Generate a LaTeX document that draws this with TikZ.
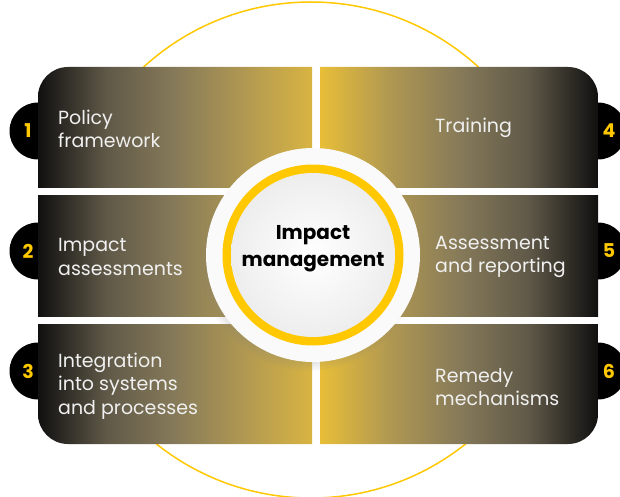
\documentclass[tikz,border=0pt]{standalone}
\usepackage{fontspec}
\setmainfont{Poppins}
\usepackage{tikz}
\usetikzlibrary{shadows}
\definecolor{ink}{RGB}{16,16,16}
\definecolor{smoke}{RGB}{96,89,72}
\definecolor{olive}{RGB}{134,122,89}
\definecolor{tan}{RGB}{176,152,82}
\definecolor{gold}{RGB}{216,180,66}
\definecolor{brightgold}{RGB}{232,190,56}
\definecolor{ringyellow}{RGB}{255,200,0}
\definecolor{paper}{RGB}{250,250,250}
\pgfdeclarehorizontalshading{darktogold}{100bp}{color(0bp)=(ink); color(25bp)=(ink);
  color(37.5bp)=(smoke); color(50bp)=(olive); color(62.5bp)=(tan);
  color(75bp)=(gold); color(100bp)=(gold)}
\pgfdeclarehorizontalshading{goldtodark}{100bp}{color(0bp)=(brightgold); color(25bp)=(brightgold);
  color(37.5bp)=(tan); color(50bp)=(olive); color(62.5bp)=(smoke);
  color(75bp)=(ink); color(100bp)=(ink)}
\tikzset{
  every picture/.style={font=\normalsize, >=stealth},
  leftpanel/.style={shading=darktogold},
  rightpanel/.style={shading=goldtodark}}

\begin{document}
\begin{tikzpicture}[x=1pt, y=-1pt,
    tag/.style={circle, fill=black, minimum size=57pt, inner sep=0pt},
    num/.style={font=\bfseries\fontsize{19}{19}\selectfont, text=ringyellow},
    caption/.style={
      font=\fontsize{19}{23.5}\selectfont, text=white!94!black,
      align=left, anchor=west, inner sep=0pt}]
  \useasboundingbox (0,0) rectangle (620,497);
  \clip (0,0) rectangle (620,497);

  \draw[ringyellow, line width=1.5pt] (311,250) circle (248pt);
  \fill[white] (38,67) rectangle (598,444);

  % number tabs sit behind the panels
  \foreach \i/\yy in {1/131, 2/251, 3/371}
    \node[tag] (tag\i) at (38,\yy) {};
  \foreach \i/\yy in {4/131, 5/251, 6/371}
    \node[tag] (tag\i) at (598,\yy) {};

  \begin{scope}
    \clip[rounded corners=30pt] (38,67) rectangle (700,700);
    \shade[leftpanel] (38,67) rectangle (312,187);
  \end{scope}
  \shade[leftpanel] (38,195) rectangle (312,316);
  \begin{scope}
    \clip[rounded corners=30pt] (38,-200) rectangle (700,444);
    \shade[leftpanel] (38,324) rectangle (312,444);
  \end{scope}
  \begin{scope}
    \clip[rounded corners=30pt] (-100,67) rectangle (598,700);
    \shade[rightpanel] (320,67) rectangle (598,187);
  \end{scope}
  \shade[rightpanel] (320,195) rectangle (598,316);
  \begin{scope}
    \clip[rounded corners=30pt] (-100,-200) rectangle (598,444);
    \shade[rightpanel] (320,324) rectangle (598,444);
  \end{scope}

  \foreach \i/\yy in {1/131, 2/251, 3/371}
    \node[num] (num\i) at (28,\yy) {\i};
  \foreach \i/\yy in {4/131, 5/251, 6/371}
    \node[num] (num\i) at (609,\yy) {\i};

  \node[caption] (policy) at (58,129) {Policy\\framework};
  \node[caption] (impact) at (58,257) {Impact\\assessments};
  \node[caption] (integration) at (58,386) {Integration\\into systems\\and processes};
  \node[caption] (training) at (435,128) {Training};
  \node[caption] (assessment) at (435,257) {Assessment\\and reporting};
  \node[caption] (remedy) at (435,387) {Remedy\\mechanisms};

  % hub
  \node[circle, fill=paper, minimum size=214pt,
        circular drop shadow={shadow xshift=-4pt, shadow yshift=-7pt,
          opacity=0.35, shadow scale=1.02}] (hub) at (313,255) {};
  \node[circle, fill=ringyellow, minimum size=181pt] (ring) at (hub) {};
  \node[circle, inner color=white, outer color=gray!14, minimum size=164pt] (core) at (hub) {};
  \node[font=\bfseries\fontsize{20}{27}\selectfont, align=center] (title) at (313,249)
    {Impact\\management};
\end{tikzpicture}
\end{document}
